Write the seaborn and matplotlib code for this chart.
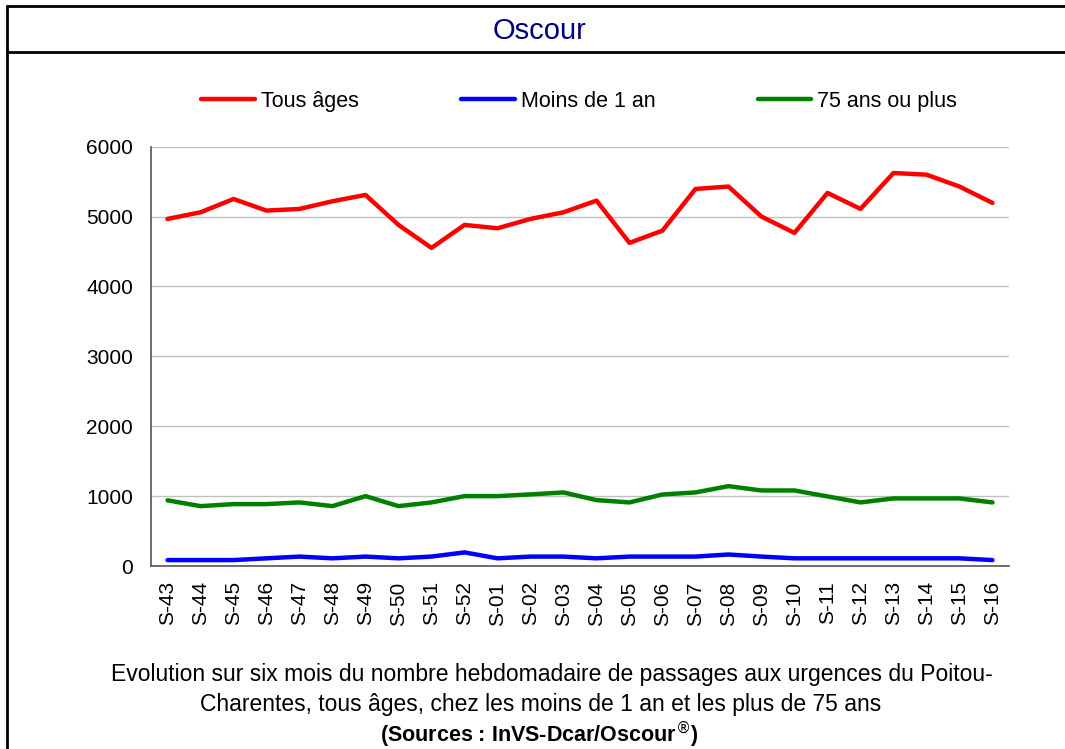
import matplotlib

matplotlib.use("Agg")
import matplotlib.pyplot as plt
import numpy as np
import pandas as pd
import seaborn as sns
from matplotlib.lines import Line2D

weeks = [
    "S-43", "S-44", "S-45", "S-46", "S-47", "S-48", "S-49", "S-50", "S-51", "S-52",
    "S-01", "S-02", "S-03", "S-04", "S-05", "S-06", "S-07", "S-08", "S-09", "S-10",
    "S-11", "S-12", "S-13", "S-14", "S-15", "S-16",
]
tous_ages = [
    4967, 5062, 5252, 5086, 5110, 5220, 5310, 4881, 4552, 4881,
    4833, 4967, 5062, 5229, 4624, 4800, 5396, 5430, 5000, 4767,
    5339, 5110, 5624, 5600, 5430, 5196,
]
moins_1_an = [
    85, 85, 85, 110, 135, 110, 135, 110, 135, 195,
    110, 135, 135, 110, 135, 135, 135, 165, 135, 110,
    110, 110, 110, 110, 110, 85,
]
plus_75 = [
    940, 857, 886, 886, 910, 857, 1000, 857, 910, 1000,
    1000, 1025, 1053, 943, 910, 1024, 1053, 1143, 1081, 1081,
    996, 910, 967, 967, 967, 910,
]
series_names = ["Tous âges", "Moins de 1 an", "75 ans ou plus"]
series_colors = ["#ff0000", "#0000ff", "#008000"]

sns.set_theme(style="white")
plt.rcParams["font.family"] = ["Liberation Sans", "DejaVu Sans"]
plt.rcParams["text.color"] = "black"
plt.rcParams["xtick.labelcolor"] = "black"
plt.rcParams["ytick.labelcolor"] = "black"

df = pd.DataFrame({"week": weeks, series_names[0]: tous_ages,
                   series_names[1]: moins_1_an, series_names[2]: plus_75})
long = df.melt(id_vars="week", var_name="serie", value_name="passages")
long["pos"] = long["week"].map({w: i for i, w in enumerate(weeks)})

fig = plt.figure(figsize=(10.65, 7.49), dpi=100)
ax = fig.add_axes([0.1418, 0.2443, 0.8056, 0.5598])

sns.lineplot(data=long, x="pos", y="passages", hue="serie", hue_order=series_names,
             palette=series_colors, linewidth=3.2, ax=ax, legend=False)

ax.set_xlim(-0.5, len(weeks) - 0.5)
ax.set_ylim(0, 6000)
ax.set_yticks(np.arange(0, 6001, 1000))
ax.set_xticks(np.arange(len(weeks)))
ax.set_xticklabels(weeks, rotation=90, fontsize=15)
ax.set_xticks(np.arange(-0.5, len(weeks)), minor=True)
ax.tick_params(axis="x", which="major", length=0, pad=11)
ax.tick_params(axis="x", which="minor", length=5, width=1, color="#333333", direction="out")
ax.tick_params(axis="y", length=5, width=1, color="#333333", direction="out", labelsize=15, pad=8)
ax.yaxis.grid(True, color="#c0c0c0", linewidth=1)
ax.set_axisbelow(True)
ax.set_xlabel("")
ax.set_ylabel("")
for side in ["top", "right"]:
    ax.spines[side].set_visible(False)
for side in ["left", "bottom"]:
    ax.spines[side].set_color("#555555")
    ax.spines[side].set_linewidth(1.2)

handles = [Line2D([0], [0], color=c, linewidth=3.2) for c in series_colors]
fig.legend(handles, series_names, loc="center", bbox_to_anchor=(0.5437, 0.865), ncol=3,
           frameon=False, fontsize=15.5, handlelength=2.5, handletextpad=0.28,
           columnspacing=4.75)

# cadre
fig.add_artist(Line2D([7 / 1065, 7 / 1065], [0, 1 - 6 / 749], color="black", linewidth=2))
fig.add_artist(Line2D([7 / 1065, 1], [1 - 6 / 749, 1 - 6 / 749], color="black", linewidth=2))
fig.add_artist(Line2D([7 / 1065, 1], [1 - 52 / 749, 1 - 52 / 749], color="black", linewidth=2))

fig.text(540 / 1065, 1 - 31 / 749, "Oscour", ha="center", va="center", fontsize=21,
         color="#000080")
caption = [
    "Evolution sur six mois du nombre hebdomadaire de passages aux urgences du Poitou-",
    "Charentes, tous âges, chez les moins de 1 an et les plus de 75 ans",
]
fig.text(552 / 1065, 1 - 675 / 749, caption[0], ha="center", va="center", fontsize=16.5)
fig.text(541 / 1065, 1 - 705 / 749, caption[1], ha="center", va="center", fontsize=16.5)
fig.text(539 / 1065, 1 - 735 / 749, "(Sources : InVS-Dcar/Oscour$^{®}$)", ha="center",
         va="center", fontsize=15.5, fontweight="bold")

fig.savefig("out.png", dpi=100)
